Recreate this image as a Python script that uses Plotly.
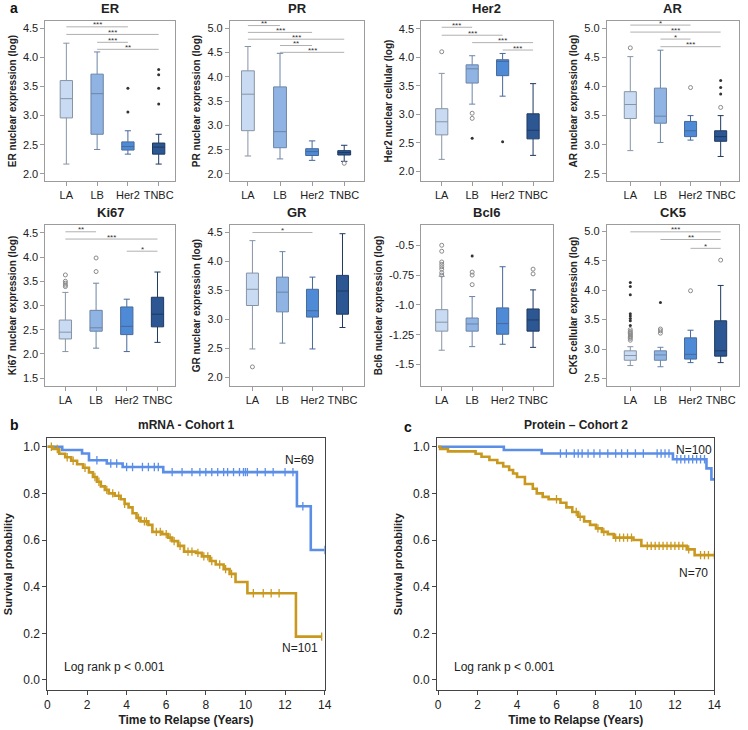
import numpy as np
import plotly.graph_objects as go

W, H = 748, 730
FONT = "Liberation Sans, Arial, sans-serif"

categories = ["LA", "LB", "Her2", "TNBC"]
box_fill = ["#c9dbf2", "#8fb4e4", "#4f8ad6", "#2c5792"]
box_line = ["#8794a6", "#6c84a6", "#46699a", "#1f3a62"]

# stats per category: [lowerfence, q1, median, q3, upperfence]
ER_stats = [[2.17, 2.96, 3.29, 3.60, 4.24], [2.42, 2.68, 3.375, 3.71, 4.09],
            [2.34, 2.41, 2.47, 2.55, 2.74], [2.17, 2.34, 2.46, 2.53, 2.68]]
ER_open = [[], [], [], []]
ER_dots = [[], [], [3.47, 3.06], [3.79, 3.70, 3.47, 3.20]]
ER_sig = [(0, 2, 4.52, "***"), (0, 3, 4.39, "***"), (1, 2, 4.255, "***"), (1, 3, 4.135, "**")]

PR_stats = [[2.37, 2.89, 3.64, 4.12, 4.62], [2.31, 2.54, 2.87, 3.79, 4.48],
            [2.28, 2.38, 2.46, 2.52, 2.68], [2.26, 2.39, 2.44, 2.48, 2.59]]
PR_open = [[], [], [], [2.22]]
PR_dots = [[], [], [], []]
PR_sig = [(0, 1, 5.05, "**"), (0, 2, 4.91, "***"), (0, 3, 4.77, "***"), (1, 2, 4.64, "**"), (1, 3, 4.50, "***")]

HER2_stats = [[2.21, 2.64, 2.87, 3.10, 3.72], [3.18, 3.55, 3.80, 3.87, 4.03],
              [3.32, 3.68, 3.93, 3.96, 4.07], [2.28, 2.57, 2.72, 3.01, 3.54]]
HER2_open = [[4.10], [3.02, 2.93], [], []]
HER2_dots = [[], [2.58], [2.52], []]
HER2_sig = [(0, 1, 4.53, "***"), (0, 2, 4.39, "***"), (1, 3, 4.26, "***"), (2, 3, 4.13, "***")]

AR_stats = [[2.90, 3.45, 3.69, 3.91, 4.51], [3.04, 3.37, 3.49, 3.97, 4.62],
            [3.08, 3.14, 3.24, 3.40, 3.50], [2.80, 3.06, 3.14, 3.24, 3.50]]
AR_open = [[4.66], [], [3.98], [3.64]]
AR_dots = [[], [], [], [4.10, 3.98, 3.87]]
AR_sig = [(0, 2, 5.05, "*"), (0, 3, 4.93, "***"), (1, 2, 4.81, "*"), (1, 3, 4.68, "***")]

KI67_stats = [[2.05, 2.31, 2.45, 2.70, 3.27], [2.12, 2.47, 2.54, 2.90, 3.46],
              [2.05, 2.40, 2.57, 2.97, 3.13], [2.24, 2.56, 2.82, 3.17, 3.69]]
KI67_open = [[3.63, 3.50, 3.46, 3.42, 3.39], [3.98, 3.70], [], []]
KI67_dots = [[], [], [], []]
KI67_sig = [(0, 1, 4.52, "**"), (0, 3, 4.37, "***"), (2, 3, 4.12, "*")]

GR_stats = [[2.49, 3.24, 3.52, 3.80, 4.36], [2.59, 3.13, 3.47, 3.73, 4.17],
            [2.49, 3.04, 3.15, 3.52, 3.73], [2.86, 3.09, 3.49, 3.76, 4.48]]
GR_open = [[2.18], [], [], []]
GR_dots = [[], [], [], []]
GR_sig = [(0, 2, 4.50, "*")]

BCL6_stats = [[-1.38, -1.22, -1.145, -1.04, -0.76], [-1.35, -1.22, -1.16, -1.11, -0.93],
              [-1.33, -1.246, -1.157, -1.025, -0.68], [-1.356, -1.22, -1.126, -1.034, -0.874]]
BCL6_open = [[-0.50, -0.55, -0.64, -0.66, -0.68, -0.70, -0.73, -0.75], [-0.725, -0.75, -0.83], [], [-0.70, -0.74]]
BCL6_dots = [[], [-0.59], [], []]
BCL6_sig = []

CK5_stats = [[2.72, 2.81, 2.89, 2.97, 3.04], [2.70, 2.81, 2.90, 2.97, 3.03],
             [2.77, 2.83, 2.91, 3.19, 3.32], [2.77, 2.88, 2.97, 3.48, 4.08]]
CK5_open = [[3.33, 3.30, 3.28, 3.26, 3.24, 3.22, 3.20, 3.18, 3.15], [3.34, 3.31, 3.27], [3.99], [4.51]]
CK5_dots = [[4.13, 4.06, 3.92, 3.60, 3.56, 3.52, 3.48, 3.40], [3.79], [], []]
CK5_sig = [(0, 3, 4.99, "***"), (1, 3, 4.86, "**"), (2, 3, 4.71, "*")]

# Kaplan-Meier data (event step points: time, survival)
b_blue_t = [0, 0.75, 1.75, 2.1, 3.0, 3.8, 5.85, 12.6, 13.3]
b_blue_s = [1.0, 0.986, 0.971, 0.942, 0.928, 0.913, 0.891, 0.745, 0.557]
b_blue_end = 14.0
b_blue_cens = [2.5, 3.2, 3.5, 4.0, 4.3, 4.8, 5.1, 5.4, 5.6, 6.3, 6.8, 7.3, 7.7, 8.0, 8.3, 8.6,
               8.9, 9.1, 9.4, 9.7, 9.9, 10.0, 10.1, 10.6, 11.0, 11.4, 12.0, 12.4, 12.9, 14.0]

b_gold_t = [0, 0.3, 0.6, 0.9, 1.2, 1.5, 1.8, 2.1, 2.3, 2.5, 2.7, 2.9, 3.1, 3.4, 3.7, 3.9, 4.1,
            4.3, 4.5, 4.7, 5.1, 5.3, 5.8, 6.1, 6.3, 6.6, 6.9, 7.5, 7.8, 8.2, 8.5, 8.9, 9.2, 9.5,
            10.1, 12.55]
b_gold_s = [1.0, 0.99, 0.97, 0.955, 0.94, 0.925, 0.91, 0.89, 0.87, 0.85, 0.83, 0.815, 0.80,
            0.79, 0.775, 0.755, 0.74, 0.715, 0.695, 0.68, 0.665, 0.635, 0.625, 0.61, 0.595,
            0.575, 0.55, 0.545, 0.53, 0.51, 0.495, 0.475, 0.455, 0.42, 0.372, 0.186]
b_gold_end = 13.85
b_gold_cens = [0.2, 0.5, 1.0, 1.3, 1.9, 2.4, 2.6, 3.0, 3.3, 3.6, 3.9, 4.6, 4.9, 5.0, 5.5, 5.7,
               6.0, 6.2, 6.4, 6.7, 7.1, 7.3, 7.6, 7.9, 8.1, 8.3, 8.7, 9.0, 9.3, 10.4, 10.9,
               11.3, 11.7, 13.85]

c_blue_t = [0, 3.33, 5.25, 11.9, 13.6, 13.85]
c_blue_s = [1.0, 0.986, 0.971, 0.946, 0.907, 0.86]
c_blue_end = 14.0
c_blue_cens = [6.2, 6.5, 6.9, 7.1, 7.3, 7.6, 7.9, 8.2, 8.6, 9.0, 9.3, 9.6, 10.0, 10.4, 11.1,
               11.3, 11.5, 11.7, 12.1, 12.3, 12.5, 12.7, 12.9, 13.1, 13.3, 13.5]

c_gold_t = [0, 0.1, 0.5, 1.9, 2.2, 2.6, 3.0, 3.3, 3.6, 3.8, 4.0, 4.4, 4.8, 5.0, 5.3, 5.6, 6.2,
            6.5, 6.8, 7.1, 7.4, 7.7, 8.0, 8.3, 8.6, 8.9, 9.9, 10.3, 12.6, 13.0]
c_gold_s = [1.0, 0.99, 0.98, 0.97, 0.957, 0.943, 0.93, 0.915, 0.90, 0.885, 0.87, 0.84, 0.82,
            0.80, 0.785, 0.775, 0.76, 0.74, 0.72, 0.70, 0.68, 0.665, 0.65, 0.635, 0.625, 0.61,
            0.60, 0.575, 0.56, 0.535]
c_gold_end = 14.0
c_gold_cens = [6.0, 7.0, 7.2, 8.1, 8.4, 9.0, 9.2, 9.4, 9.6, 9.8, 10.6, 10.8, 11.0, 11.2, 11.4,
               11.6, 11.8, 12.0, 12.2, 12.4, 12.7, 13.3, 13.5, 13.7, 14.0]

KM_BLUE = "#5b8ee6"
KM_GOLD = "#c9991f"

panels = [
    dict(title="ER", ytitle="ER nuclear expression (log)", stats=ER_stats, op=ER_open, dots=ER_dots,
         sig=ER_sig, yr=[1.88, 4.62], yt=[2.0, 2.5, 3.0, 3.5, 4.0, 4.5], xr=[-0.68, 3.52], px=[43, 174], row=0),
    dict(title="PR", ytitle="PR nuclear expression (log)", stats=PR_stats, op=PR_open, dots=PR_dots,
         sig=PR_sig, yr=[1.856, 5.144], yt=[2.0, 2.5, 3.0, 3.5, 4.0, 4.5, 5.0], xr=[-0.56, 3.62], px=[230, 366], row=0),
    dict(title="Her2", ytitle="Her2 nuclear cellular (log)", stats=HER2_stats, op=HER2_open, dots=HER2_dots,
         sig=HER2_sig, yr=[1.83, 4.64], yt=[2.0, 2.5, 3.0, 3.5, 4.0, 4.5], xr=[-0.67, 3.64], px=[424, 557], row=0),
    dict(title="AR", ytitle="AR nuclear expression (log)", stats=AR_stats, op=AR_open, dots=AR_dots,
         sig=AR_sig, yr=[2.38, 5.12], yt=[2.5, 3.0, 3.5, 4.0, 4.5, 5.0], xr=[-0.78, 3.61], px=[612, 746], row=0),
    dict(title="Ki67", ytitle="Ki67 nuclear expression (log)", stats=KI67_stats, op=KI67_open, dots=KI67_dots,
         sig=KI67_sig, yr=[1.34, 4.66], yt=[1.5, 2.0, 2.5, 3.0, 3.5, 4.0, 4.5], xr=[-0.65, 3.56], px=[43, 174], row=1),
    dict(title="GR", ytitle="GR nuclear expression (log)", stats=GR_stats, op=GR_open, dots=GR_dots,
         sig=GR_sig, yr=[1.85, 4.63], yt=[2.0, 2.5, 3.0, 3.5, 4.0, 4.5], xr=[-0.75, 3.72], px=[230, 366], row=1),
    dict(title="Bcl6", ytitle="Bcl6 nuclear expression (log)", stats=BCL6_stats, op=BCL6_open, dots=BCL6_dots,
         sig=BCL6_sig, yr=[-1.68, -0.33], yt=[-1.5, -1.25, -1.0, -0.75, -0.5],
         ytt=["-1.5", "-1.25", "-1.0", "-0.75", "-0.5"], xr=[-0.67, 3.64], px=[424, 557], row=1),
    dict(title="CK5", ytitle="CK5 cellular expression (log)", stats=CK5_stats, op=CK5_open, dots=CK5_dots,
         sig=CK5_sig, yr=[2.373, 5.106], yt=[2.5, 3.0, 3.5, 4.0, 4.5, 5.0], xr=[-0.78, 3.61], px=[612, 746], row=1),
]
row_py = [[21, 181], [225, 386]]


def suf(i):
    return "" if i == 1 else str(i)


fig = go.Figure()
layout = dict(width=W, height=H, margin=dict(l=0, r=0, t=0, b=0), paper_bgcolor="white",
              plot_bgcolor="white", showlegend=False, font=dict(family=FONT, color="#222"))
annotations = []

GRAY = "#9c9c9c"
for k, p in enumerate(panels):
    i = k + 1
    xa, ya = f"x{suf(i)}", f"y{suf(i)}"
    y0, y1 = row_py[p["row"]]
    for c in range(4):
        lf, q1, md, q3, uf = p["stats"][c]
        fig.add_trace(go.Box(x=[c], q1=[q1], median=[md], q3=[q3], lowerfence=[lf], upperfence=[uf],
                             fillcolor=box_fill[c], line=dict(color=box_line[c], width=1),
                             width=0.4, whiskerwidth=0.5, boxpoints=False, xaxis=xa, yaxis=ya,
                             hoverinfo="skip"))
        if p["op"][c]:
            fig.add_trace(go.Scatter(x=[c] * len(p["op"][c]), y=p["op"][c], mode="markers",
                                     marker=dict(symbol="circle-open", size=4, color="#8a8a8a",
                                                 line=dict(width=1)), xaxis=xa, yaxis=ya))
        if p["dots"][c]:
            fig.add_trace(go.Scatter(x=[c] * len(p["dots"][c]), y=p["dots"][c], mode="markers",
                                     marker=dict(symbol="circle", size=3, color="#333"), xaxis=xa, yaxis=ya))
    sx, sy = [], []
    for (a, b, yv, lab) in p["sig"]:
        sx += [a, b, None]
        sy += [yv, yv, None]
        annotations.append(dict(x=(a + b) / 2, y=yv, xref=xa, yref=ya, text=lab, showarrow=False,
                                font=dict(size=8, color="#333"), yanchor="middle", yshift=2))
    if sx:
        fig.add_trace(go.Scatter(x=sx, y=sy, mode="lines", line=dict(color="#b0b0b0", width=1),
                                 xaxis=xa, yaxis=ya, hoverinfo="skip"))
    axstyle = dict(showline=True, mirror=True, linecolor=GRAY, linewidth=1, ticks="outside", ticklen=4,
                   tickcolor=GRAY, showgrid=False, zeroline=False, tickfont=dict(size=11, color="#222"))
    layout[f"xaxis{suf(i)}"] = dict(domain=[p["px"][0] / W, p["px"][1] / W], range=p["xr"], anchor=ya,
                                    tickvals=[0, 1, 2, 3], ticktext=categories, **axstyle)
    layout[f"yaxis{suf(i)}"] = dict(domain=[1 - y1 / H, 1 - y0 / H], range=p["yr"], anchor=xa,
                                    tickvals=p["yt"], ticktext=p.get("ytt", [f"{v:.1f}" for v in p["yt"]]),
                                    title=dict(text=f"<b>{p['ytitle']}</b>", font=dict(size=10, color="#222"),
                                               standoff=4), **axstyle)
    annotations.append(dict(x=0.5, y=1, xref=f"{xa} domain", yref=f"{ya} domain", text=f"<b>{p['title']}</b>",
                            showarrow=False, yanchor="bottom", yshift=3, font=dict(size=13, color="#222")))


def step_val(ts, ss, t):
    idx = np.searchsorted(np.array(ts), np.array(t), side="right") - 1
    return list(np.array(ss)[idx])


km = [
    dict(i=9, px=[45, 326], title="mRNA - Cohort 1", xr=[0, 14],
         curves=[(b_blue_t, b_blue_s, b_blue_end, b_blue_cens, KM_BLUE),
                 (b_gold_t, b_gold_s, b_gold_end, b_gold_cens, KM_GOLD)],
         labels=[(12.75, 0.945, "N=69"), (12.75, 0.135, "N=101")], logx=0.75),
    dict(i=10, px=[440, 721], title="Protein \u2013 Cohort 2", xr=[-0.05, 14],
         curves=[(c_blue_t, c_blue_s, c_blue_end, c_blue_cens, KM_BLUE),
                 (c_gold_t, c_gold_s, c_gold_end, c_gold_cens, KM_GOLD)],
         labels=[(12.95, 0.985, "N=100"), (12.95, 0.46, "N=70")], logx=0.7),
]
for p in km:
    i = p["i"]
    xa, ya = f"x{i}", f"y{i}"
    for (ts, ss, te, cens, col) in p["curves"]:
        fig.add_trace(go.Scatter(x=list(ts) + [te], y=list(ss) + [ss[-1]], mode="lines",
                                 line=dict(color=col, width=2.6, shape="hv"), xaxis=xa, yaxis=ya))
        fig.add_trace(go.Scatter(x=cens, y=step_val(ts, ss, cens), mode="markers",
                                 marker=dict(symbol="line-ns-open", size=6, color=col,
                                             line=dict(color=col, width=1.3)),
                                 xaxis=xa, yaxis=ya))
    for (lx, ly, txt) in p["labels"]:
        annotations.append(dict(x=lx, y=ly, xref=xa, yref=ya, text=txt, showarrow=False,
                                font=dict(size=12, color="#222")))
    annotations.append(dict(x=p["logx"], y=0.057, xref=xa, yref=ya, text="Log rank p < 0.001",
                            showarrow=False, xanchor="left", font=dict(size=12, color="#222")))
    annotations.append(dict(x=0.5, y=1, xref=f"{xa} domain", yref=f"{ya} domain", text=f"<b>{p['title']}</b>",
                            showarrow=False, yanchor="bottom", yshift=4, font=dict(size=12, color="#222")))
    kst = dict(showline=True, mirror=True, linecolor="#444", linewidth=1, ticks="outside", ticklen=4,
               tickcolor="#444", showgrid=False, zeroline=False, tickfont=dict(size=12, color="#222"))
    layout[f"xaxis{i}"] = dict(domain=[p["px"][0] / W, p["px"][1] / W], range=p["xr"], anchor=ya,
                               tickvals=list(range(0, 15, 2)),
                               title=dict(text="<b>Time to Relapse (Years)</b>", font=dict(size=12, color="#222"),
                                          standoff=4), **kst)
    layout[f"yaxis{i}"] = dict(domain=[1 - 690 / H, 1 - 438.3 / H], range=[-0.043, 1.036], anchor=xa,
                               tickvals=[0, 0.2, 0.4, 0.6, 0.8, 1.0], tickformat=".1f",
                               title=dict(text="<b>Survival probability</b>", font=dict(size=11, color="#222"),
                                          standoff=8), **kst)

for (lx, ly, t) in [(5, 8, "a"), (5, 425, "b"), (404, 427, "c")]:
    annotations.append(dict(x=lx / W, y=1 - ly / H, xref="paper", yref="paper", text=f"<b>{t}</b>",
                            showarrow=False, xanchor="left", yanchor="middle", font=dict(size=14, color="#111")))

layout["annotations"] = annotations
fig.update_layout(**layout)
fig.write_html("out.html", config={"displayModeBar": False},
               post_script="document.body.style.margin='0';document.body.style.overflow='hidden';")
